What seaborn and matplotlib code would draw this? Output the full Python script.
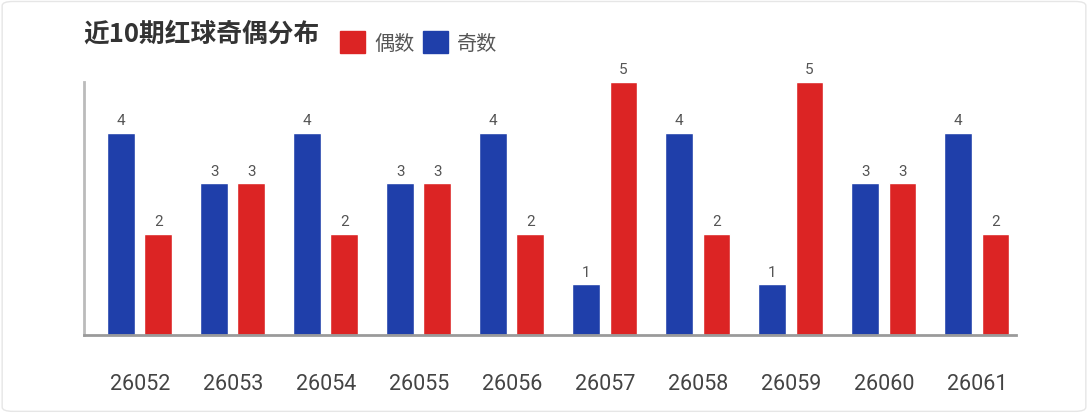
import matplotlib
matplotlib.use('Agg')
import matplotlib.pyplot as plt
from matplotlib.patches import Patch, FancyBboxPatch
import pandas as pd
import seaborn as sns

# draw numbers and odd/even counts of red balls
periods = ['26052', '26053', '26054', '26055', '26056',
           '26057', '26058', '26059', '26060', '26061']
odd_counts = [4, 3, 4, 3, 4, 1, 4, 1, 3, 4]
even_counts = [2, 3, 2, 3, 2, 5, 2, 5, 3, 2]

odd_label = '奇数'
even_label = '偶数'
colors = {odd_label: '#1f3faa', even_label: '#dc2424'}

sns.set_theme(style='white')
plt.rcParams['font.family'] = ['Noto Sans CJK SC', 'DejaVu Sans']

df = pd.DataFrame({
    'period': periods * 2,
    'count': odd_counts + even_counts,
    'kind': [odd_label] * len(periods) + [even_label] * len(periods),
})

fig = plt.figure(figsize=(10.88, 4.14), dpi=100)
ax = fig.add_axes([0.0772, 0.1884, 0.8566, 0.611])

sns.barplot(data=df, x='period', y='count', hue='kind',
            hue_order=[odd_label, even_label], palette=colors,
            width=0.8, gap=0.25, ax=ax, legend=False, saturation=1)

for cont in ax.containers:
    ax.bar_label(cont, fmt='%d', padding=4, fontsize=11, color='#555555',
                 family='Roboto')

ax.set_xlim(-0.6, 9.42)
ax.set_ylim(0, 5)
ax.set_xlabel('')
ax.set_ylabel('')
ax.set_yticks([])
ax.tick_params(axis='x', length=0, pad=27, labelsize=15.5, labelcolor='#444444')
for lbl in ax.get_xticklabels():
    lbl.set_family('Roboto')

for side in ['top', 'right']:
    ax.spines[side].set_visible(False)
ax.spines['bottom'].set_color('#9a9a9a')
ax.spines['bottom'].set_linewidth(2)
ax.spines['left'].set_color('#bbbbbb')
ax.spines['left'].set_linewidth(2)

fig.text(0.077, 0.918, '近10期红球奇偶分布', fontsize=18.5, fontweight='bold',
         color='#333333', va='center', ha='left')

handles = [Patch(color=colors[even_label]), Patch(color=colors[odd_label])]
fig.legend(handles, [even_label, odd_label], loc='center left',
           bbox_to_anchor=(0.296, 0.895), ncol=2, frameon=False,
           fontsize=14.5, handlelength=1.25, handleheight=1.25,
           handletextpad=0.45, columnspacing=0.4, labelcolor='#555555')

# light outer frame
fig.patches.append(FancyBboxPatch((0.002, 0.004), 0.996, 0.99,
                                  boxstyle='round,pad=0,rounding_size=0.01',
                                  transform=fig.transFigure, fill=False,
                                  edgecolor='#e6e6e6', linewidth=1))

fig.savefig('out.png', dpi=100, facecolor='white')
